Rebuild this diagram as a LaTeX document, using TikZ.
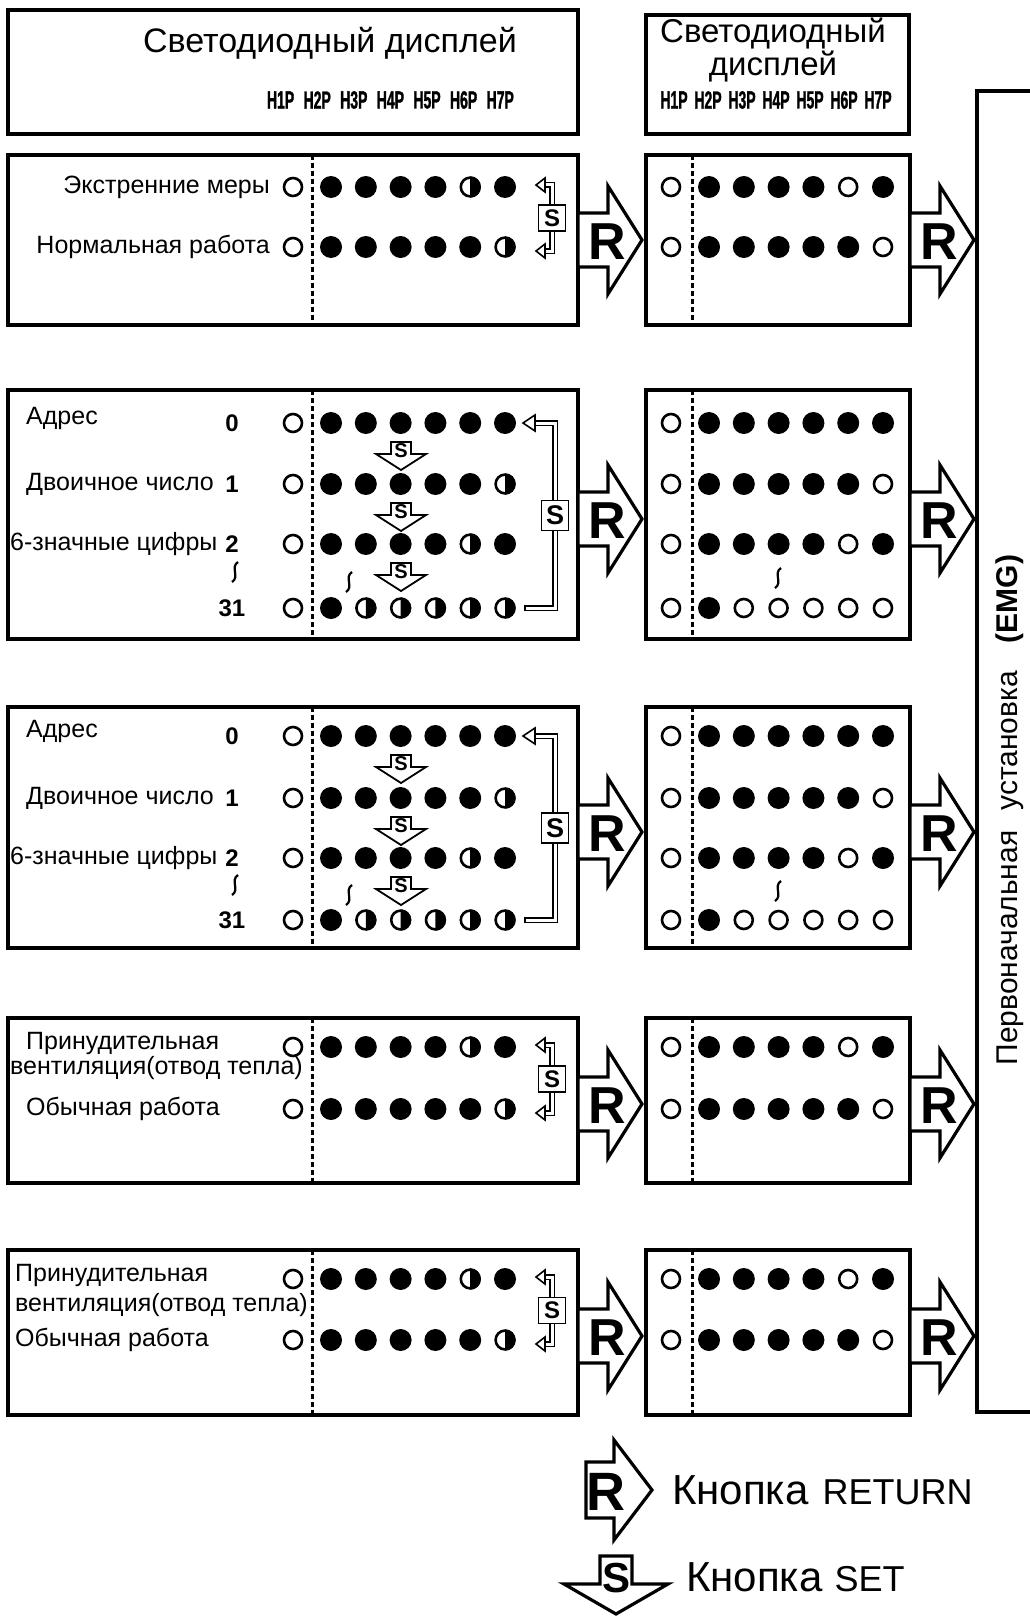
\documentclass[tikz,border=0pt]{standalone}
\usepackage{fontspec}
\setmainfont{Liberation Sans}
\newfontfamily\hfont[FakeStretch=0.56,FakeBold=1.2]{Liberation Sans}
\newcommand\fsz[1]{\fontsize{#1}{#1}\selectfont}
\tikzset{
  frame/.style={line width=3.2pt},
  dots/.style={line width=3pt,dash pattern=on 5pt off 3pt},
  dbl/.style={line width=1.6pt,double=white,double distance=3pt},
  head/.style={inner sep=0pt,font=\fsz{#1}},
  hlbl/.style={inner sep=0pt,font=\hfont\bfseries\fsz{25}},
  lbl/.style={inner sep=0pt,font=\fsz{25}},
  num/.style={inner sep=0pt,font=\fsz{24}\bfseries},
  rlet/.style={inner sep=0pt,font=\fsz{52}\bfseries},
  slet/.style={inner sep=0pt,font=\fsz{#1}\bfseries},
  sbox/.style={draw,fill=white,line width=1.6pt,minimum width=27pt,minimum height=#1,slet=24},
}
\newcommand\ledo[2]{\draw[line width=2.6pt] (#1,#2) circle (9);}
\newcommand\ledf[2]{\fill (#1,#2) circle (11);}
\newcommand\ledh[2]{\draw[line width=2.6pt] (#1,#2) circle (9.4);\fill (#1,#2-10.7) arc (-90:90:10.7) -- cycle;}
\newcommand\ledrow[3]{\foreach \s [count=\i from 0] in {#3}{\pgfmathsetmacro\xx{\i==0?#1-38:#1+34.8*(\i-1)}\csname led\s\endcsname{\xx}{#2}}}
\newcommand\wavy[2]{\draw[line width=2.2pt] (#1+3,#2-10) .. controls (#1-5,#2-5) and (#1+5,#2+5) .. (#1-3,#2+10);}
\newcommand\rbtn[3]{\draw[frame,fill=white] (#2,#3-27) -- (#2+30,#3-27) -- (#2+30,#3-54) -- (#2+64,#3) -- (#2+30,#3+54) -- (#2+30,#3+27) -- (#2,#3+27) -- cycle;
  \node[rlet] (#1) at (#2+29,#3+2) {R};}
\newcommand\sdown[3]{\draw[line width=1.8pt,fill=white] (#2-10,#3) -- (#2+10,#3) -- (#2+10,#3+12) -- (#2+25,#3+12) -- (#2,#3+28) -- (#2-25,#3+12) -- (#2-10,#3+12) -- cycle;
  \node[slet=20] (#1) at (#2,#3+9) {S};}
\newcommand\stog[4]{\draw[dbl] (#2-8,#3) -- (#2,#3) -- (#2,#4) -- (#2-8,#4);
  \foreach \yy in {#3,#4}{\draw[line width=1.6pt,fill=white] (#2-7,\yy-7) -- (#2-16,\yy) -- (#2-7,\yy+7) -- cycle;}
  \node[sbox=26pt] (#1) at (#2,{(#3+#4)/2}) {S};}
\newcommand\sloop[4]{\draw[dbl] (#2-22,#3) -- (#2,#3) -- (#2,#4) -- (#2-30,#4);
  \draw[line width=1.6pt] (#2-30,#4-3.1) -- (#2-30,#4+3.1);
  \draw[line width=1.6pt,fill=white] (#2-20,#3-8) -- (#2-32,#3) -- (#2-20,#3+8) -- cycle;
  \node[sbox=30pt,slet=27] (#1) at (#2,{(#3+#4)/2}) {S};}

\begin{document}
\begin{tikzpicture}[x=1pt,y=-1pt]
\useasboundingbox (0,0) rectangle (1030,1616);
\draw[frame] (8,10) rectangle (578,134);
\draw[frame] (646,15) rectangle (909,134);
\node[head=34] (hdl) at (330,43) {Светодиодный дисплей};
\node[head=33,align=center] (hdr) at (773,50) {Светодиодный\\дисплей};
\foreach \k in {1,...,7}{
  \node[hlbl] (hl\k) at (244+36.6*\k,100) {H\k P};
  \node[hlbl] (hr\k) at (640+34*\k,100) {H\k P};}
\foreach \yt/\yb in {155/325,390/639,707/948,1018/1183,1250/1415}{
  \draw[frame] (8,\yt) rectangle (578,\yb);
  \draw[frame] (646,\yt) rectangle (910,\yb);
  \draw[dots] (312,\yt) -- (312,\yb);
  \draw[dots] (692,\yt) -- (692,\yb);}
\node[lbl,anchor=east] (emer) at (270,187) {Экстренние меры};
\node[lbl,anchor=east] (norm) at (270,247) {Нормальная работа};
\ledrow{331}{187}{o,f,f,f,f,h,f}
\ledrow{331}{247}{o,f,f,f,f,f,h}
\ledrow{709}{187}{o,f,f,f,f,o,f}
\ledrow{709}{247}{o,f,f,f,f,f,o}
\stog{st1}{552}{185}{251}
\rbtn{rl1}{578}{240}
\rbtn{rr1}{910}{240}
\foreach \ya/\yb/\yc/\yd/\yw/\yr in {423/484/544/608/576/519,736/798/858/920/889/832}{
  \node[lbl,anchor=west] (adr\ya) at (26,\ya-5) {Адрес};
  \node[lbl,anchor=west] (bin\ya) at (26,\yb) {Двоичное число};
  \node[lbl,anchor=west] (dig\ya) at (10,\yc) {6-значные цифры};
  \node[num] (na\ya) at (232,\ya) {0};
  \node[num] (nb\ya) at (232,\yb) {1};
  \node[num] (nc\ya) at (232,\yc) {2};
  \node[num] (nd\ya) at (232,\yd) {31};
  \wavy{235}{\yw-4}
  \wavy{349}{\yw+6}
  \wavy{778}{\yw+2}
  \ledrow{331}{\ya}{o,f,f,f,f,f,f}
  \ledrow{331}{\yb}{o,f,f,f,f,f,h}
  \ledrow{331}{\yc}{o,f,f,f,f,h,f}
  \ledrow{331}{\yd}{o,f,h,h,h,h,h}
  \ledrow{709}{\ya}{o,f,f,f,f,f,f}
  \ledrow{709}{\yb}{o,f,f,f,f,f,o}
  \ledrow{709}{\yc}{o,f,f,f,f,o,f}
  \ledrow{709}{\yd}{o,f,o,o,o,o,o}
  \sdown{sa\ya}{401}{\ya+19}
  \sdown{sb\ya}{401}{\yb+19}
  \sdown{sc\ya}{401}{\yc+19}
  \sloop{sl\ya}{555}{\ya}{\yd}
  \rbtn{rl\ya}{578}{\yr}
  \rbtn{rr\ya}{910}{\yr}}
\foreach \ya/\yb/\yv/\xa/\xv/\yr in {1047/1109/1068/26/10/1104,1279/1340/1305/15/15/1336}{
  \node[lbl,anchor=west] (fan\ya) at (\xa,\ya-4) {Принудительная};
  \node[lbl,anchor=west] (vent\ya) at (\xv,\yv) {вентиляция(отвод тепла)};
  \node[lbl,anchor=west] (usu\ya) at (\xa,\yb) {Обычная работа};
  \ledrow{331}{\ya}{o,f,f,f,f,h,f}
  \ledrow{331}{\yb}{o,f,f,f,f,f,h}
  \ledrow{709}{\ya}{o,f,f,f,f,o,f}
  \ledrow{709}{\yb}{o,f,f,f,f,f,o}
  \stog{st\ya}{552}{\ya-2}{\yb+4}
  \rbtn{rl\ya}{578}{\yr}
  \rbtn{rr\ya}{910}{\yr}}
\draw[frame] (1030,91) -- (977,91) -- (977,1412) -- (1030,1412);
\node[inner sep=0pt,font=\fsz{30},rotate=90] (emg) at (1010,810) {Первоначальная\hspace{20pt}установка\hspace{28pt}{\bfseries(EMG)}};
\draw[frame,fill=white] (586,1462) -- (614,1462) -- (614,1440) -- (652,1490) -- (614,1540) -- (614,1518) -- (586,1518) -- cycle;
\node[inner sep=0pt,font=\fsz{54}\bfseries] (rkey) at (606,1492) {R};
\node[inner sep=0pt,anchor=west,font=\fsz{42}] (rtxt) at (672,1490) {Кнопка\hspace{14pt}{\fsz{36}RETURN}};
\draw[frame,fill=white] (600,1556) -- (632,1556) -- (632,1584) -- (668,1584) -- (616,1614) -- (564,1584) -- (600,1584) -- cycle;
\node[slet=42] (skey) at (616,1578) {S};
\node[inner sep=0pt,anchor=west,font=\fsz{42}] (stxt) at (686,1577) {Кнопка\hspace{12pt}{\fsz{36}SET}};
\end{tikzpicture}
\end{document}
